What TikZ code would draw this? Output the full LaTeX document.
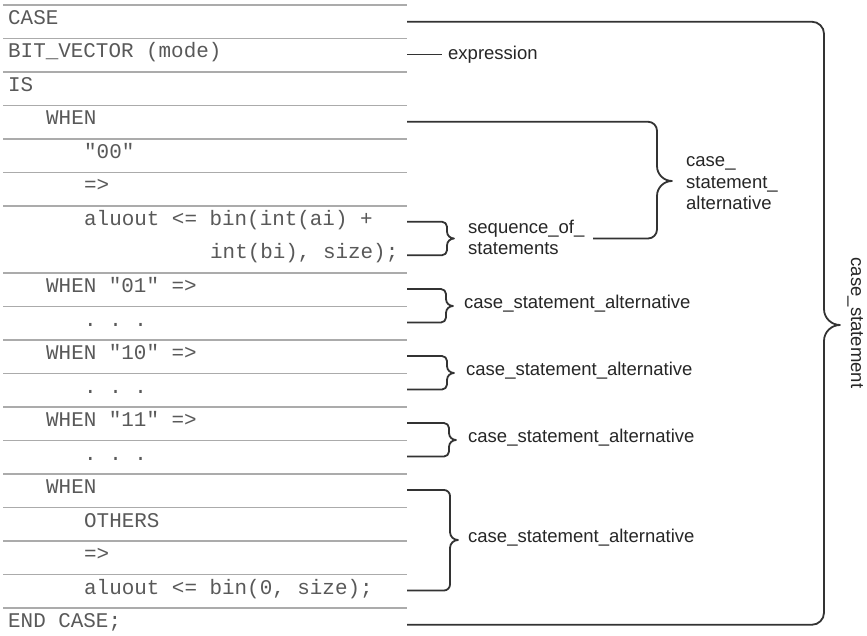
\documentclass[tikz,border=0pt]{standalone}
\usepackage{fontspec}
\setmainfont{Liberation Sans}
\setmonofont{Liberation Mono}
\tikzset{
 rowline/.style={draw=black!33, line width=1.3pt},
 bracket/.style={draw=black!80, line width=1.8pt, line join=round},
 code/.style={anchor=base west, inner sep=0pt, text=black!65, font=\ttfamily\fontsize{20.9}{25}\selectfont},
 lbl/.style={anchor=base west, inner sep=0pt, text=black!85, font=\fontsize{18.5}{21.5}\selectfont},
}
% #1 top x start, #2 bottom x start, #3 vertical x, #4 top y, #5 bottom y, #6 tip y, #7 corner radius, #8 tip size
\newcommand{\mybrace}[8]{%
 \draw[bracket] (#1,#4) -- ({#3-#7},#4)
  .. controls ({#3-0.45*#7},#4) and (#3,{#4+0.45*#7}) .. (#3,{#4+#7})
  -- (#3,{#6-#8})
  .. controls (#3,{#6-0.4*#8}) and ({#3+0.5*#8},#6) .. ({#3+#8},#6)
  .. controls ({#3+0.5*#8},#6) and (#3,{#6+0.4*#8}) .. (#3,{#6+#8})
  -- (#3,{#5-#7})
  .. controls (#3,{#5-0.45*#7}) and ({#3-0.45*#7},#5) .. ({#3-#7},#5)
  -- (#2,#5);}
\begin{document}
\begin{tikzpicture}[x=1pt,y=-1pt]
\useasboundingbox (0,0) rectangle (867,636);
\fill[white] (0,0) rectangle (867,636);
% row separators
\foreach \k in {0,1,2,3,4,5,6,8,9,10,11,12,13,14,15,16,17,18}
  \draw[rowline] (3,{5+33.5*\k}) -- (407,{5+33.5*\k});
% code lines
\node[code] (c0) at (8,24.5) {CASE};
\node[code] (c1) at (8,58) {BIT\_VECTOR (mode)};
\node[code] (c2) at (8,91.5) {IS};
\node[code] (c3) at (46,125) {WHEN};
\node[code] (c4) at (84,158.5) {"00"};
\node[code] (c5) at (84,192) {=>};
\node[code] (c6) at (84,225.5) {aluout <= bin(int(ai) +};
\node[code] (c7) at (210,259) {int(bi), size);};
\node[code] (c8) at (46,292.5) {WHEN "01" =>};
\node[code] (c9) at (84,326) {. . .};
\node[code] (c10) at (46,359.5) {WHEN "10" =>};
\node[code] (c11) at (84,393) {. . .};
\node[code] (c12) at (46,426.5) {WHEN "11" =>};
\node[code] (c13) at (84,460) {. . .};
\node[code] (c14) at (46,493.5) {WHEN};
\node[code] (c15) at (84,527) {OTHERS};
\node[code] (c16) at (84,560.5) {=>};
\node[code] (c17) at (84,594) {aluout <= bin(0, size);};
\node[code] (c18) at (8,627.5) {END CASE;};
% expression
\node[lbl] (expr) at (448,59.5) {expression};
\coordinate (exprstart) at (407,54.5);
\coordinate (exprend) at (442,54.5);
\draw[bracket] (exprstart) -- (exprend);
% braces
\mybrace{407}{407}{824}{21.75}{624.75}{325}{12}{16}
\mybrace{407}{593}{657}{121.75}{238.5}{181}{9}{15}
\mybrace{407}{407}{447}{221.75}{255.25}{238.5}{5}{7}
\mybrace{407}{407}{446}{289}{322.5}{306}{5}{7}
\mybrace{407}{407}{447}{356}{389.5}{373}{5}{7}
\mybrace{407}{407}{449}{423}{456.5}{440}{5}{7}
\mybrace{407}{407}{450}{490}{590.5}{540}{6}{8}
% labels
\node[lbl] (seqa) at (468,233.5) {sequence\_of\_};
\node[lbl] (seqb) at (468,254.5) {statements};
\node[lbl] (alt0a) at (686,167) {case\_};
\node[lbl] (alt0b) at (686,188.5) {statement\_};
\node[lbl] (alt0c) at (686,210) {alternative};
\node[lbl] (alt1) at (464,308.5) {case\_statement\_alternative};
\node[lbl] (alt2) at (466,375.5) {case\_statement\_alternative};
\node[lbl] (alt3) at (468,442.5) {case\_statement\_alternative};
\node[lbl] (alt4) at (468,542.5) {case\_statement\_alternative};
\node[lbl, anchor=base, rotate=-90] (cs) at (851,323) {case\_statement};
\end{tikzpicture}
\end{document}
